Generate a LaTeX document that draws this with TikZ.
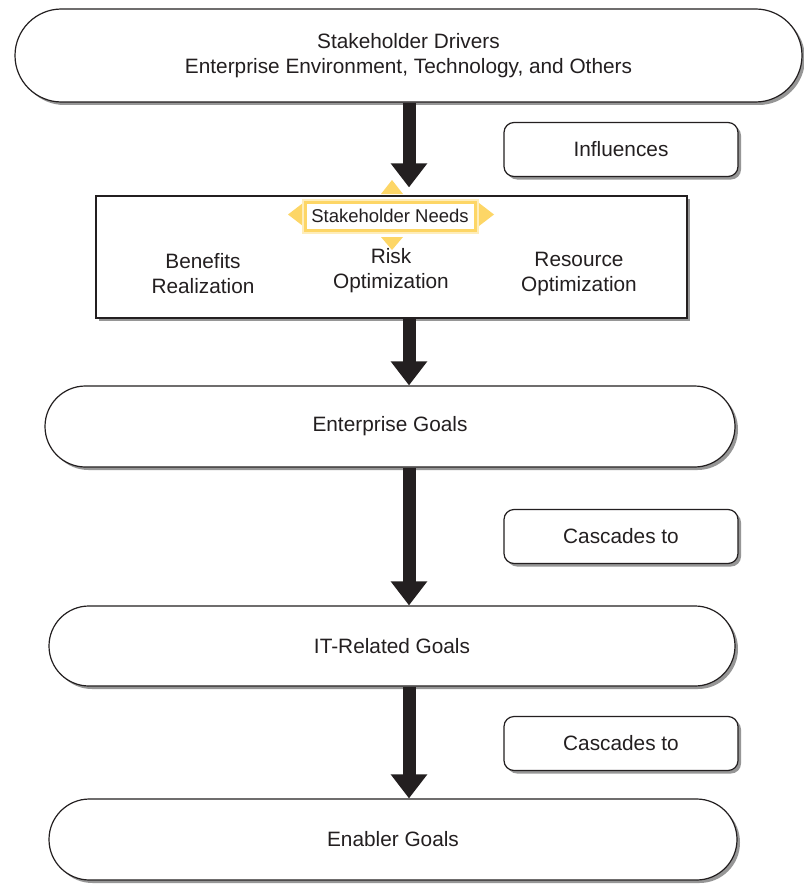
\documentclass[tikz,border=0pt]{standalone}
\usepackage{fontspec}
\setmainfont{Liberation Sans}
\usetikzlibrary{shapes.misc,shadows,arrows.meta}
\definecolor{ink}{RGB}{35,31,32}
\definecolor{hilite}{RGB}{253,214,102}
\definecolor{shade}{RGB}{150,150,150}
\begin{document}
\begin{tikzpicture}[x=1pt,y=-1pt,
  shadowed/.style={drop shadow={shadow xshift=3pt,shadow yshift=-3pt,fill=shade,opacity=1}},
  bodyfont/.style={font=\fontsize{20.8}{25}\selectfont,text=ink},
  stadium/.style={rounded rectangle,draw=ink,line width=1.2pt,fill=white,shadowed,
    bodyfont,align=center,inner sep=0pt},
  tag/.style={rectangle,rounded corners=10pt,draw=ink,line width=1.2pt,fill=white,shadowed,
    minimum width=234pt,minimum height=54pt,inner sep=0pt,bodyfont},
  panel/.style={rectangle,draw=ink,line width=1.2pt,fill=white,shadowed,inner sep=0pt},
  plain/.style={bodyfont,align=center,inner sep=0pt},
  needslabel/.style={rectangle,draw=hilite,line width=3pt,fill=white,
    preaction={draw=hilite!45,line width=7pt},
    minimum width=170pt,minimum height=28pt,inner sep=0pt,text=ink,
    font=\fontsize{18.5}{22}\selectfont},
  bigarrow/.style={draw=ink,line width=13pt,-{Triangle[width=35pt,length=24pt]}}
]
\useasboundingbox[fill=white] (0,0) rectangle (803,888);

% driver stadium and the goal stadiums
\node[stadium,minimum width=787pt,minimum height=93pt] (drivers) at (408.5,55.5)
  {Stakeholder Drivers\\Enterprise Environment, Technology, and Others};
\node[stadium,minimum width=690pt,minimum height=81pt] (entgoals) at (390,426.5) {Enterprise Goals};
\node[stadium,minimum width=686pt,minimum height=80pt] (itgoals) at (392,646) {IT-Related Goals};
\node[stadium,minimum width=688pt,minimum height=81pt] (enabler) at (393,839.5) {Enabler Goals};

% side tags
\node[tag] (influences) at (621,149.5) {Influences};
\node[tag] (cascade1) at (621,536.5) {Cascades to};
\node[tag] (cascade2) at (621,743.5) {Cascades to};

% stakeholder needs panel
\node[panel,minimum width=591pt,minimum height=122pt] (needs) at (391.5,257) {};
\node[plain] (benefits) at (203,274) {Benefits\\Realization};
\node[plain] (risk) at (391,271) {Risk\\Optimization};
\node[plain] (resource) at (579,274) {Resource\\Optimization};

% highlighted label with its four pointers
\fill[hilite] (381,194) -- (392,180) -- (403,194) -- cycle;
\fill[hilite] (381,237) -- (392,250) -- (403,237) -- cycle;
\fill[hilite] (303,203) -- (288,214.5) -- (303,226) -- cycle;
\fill[hilite] (479,203) -- (494,214.5) -- (479,226) -- cycle;
\node[needslabel] (needslbl) at (390,216) {Stakeholder Needs};

% flow arrows
\coordinate (arrowx) at (409,0);
\draw[bigarrow,shorten >=8pt] (drivers.south -| arrowx) -- (needs.north -| arrowx);
\draw[bigarrow] (needs.south -| arrowx) -- (entgoals.north -| arrowx);
\draw[bigarrow] (entgoals.south -| arrowx) -- (itgoals.north -| arrowx);
\draw[bigarrow] (itgoals.south -| arrowx) -- (enabler.north -| arrowx);
\end{tikzpicture}
\end{document}
